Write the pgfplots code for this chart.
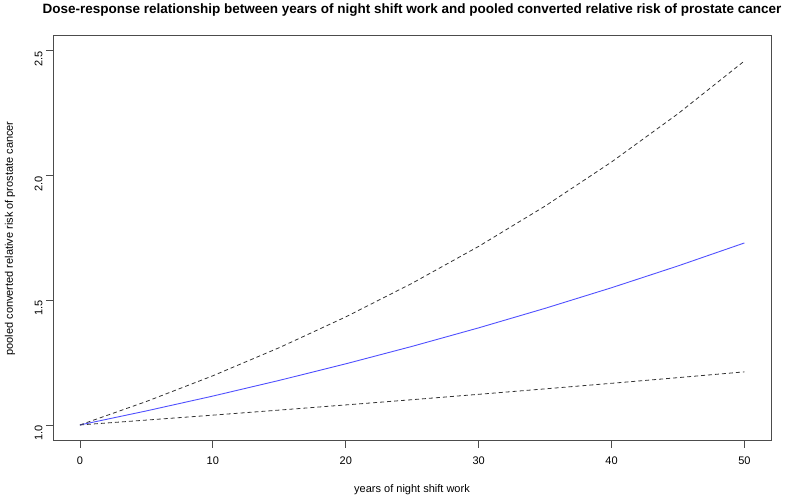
\documentclass[border=0pt]{standalone}
\usepackage{fontspec}
\setmainfont{Liberation Sans}
\usepackage{pgfplots}
\pgfplotsset{compat=1.18}
\definecolor{rblue}{RGB}{80,80,255}

\begin{document}
\begin{tikzpicture}
\begin{axis}[
  scale only axis,
  width=718pt, height=405pt,
  xmin=-2.03, xmax=52, ymin=0.936, ymax=2.56,
  xtick={0,10,20,30,40,50},
  ytick={1,1.5,2,2.5},
  yticklabels={1.0,1.5,2.0,2.5},
  tick align=outside,
  xtick pos=bottom, ytick pos=left,
  major tick length=7pt,
  tick style={black!70, line width=0.8pt},
  axis line style={black!70, line width=0.9pt},
  font=\fontsize{11}{13}\selectfont,
  /pgf/number format/assume math mode=true,
  xticklabel style={yshift=-5pt},
  yticklabel style={rotate=90, anchor=south, xshift=-8pt},
  title={Dose-response relationship between years of night shift work and pooled converted relative risk of prostate cancer},
  title style={font=\fontsize{13.5}{15}\selectfont\bfseries, at={(axis description cs:0.5,1.05)}, anchor=center},
  xlabel={years of night shift work},
  xlabel style={at={(axis description cs:0.5,-0.121)}, anchor=center},
  ylabel={pooled converted relative risk of prostate cancer},
  ylabel style={at={(axis description cs:-0.06,0.5)}, anchor=center, rotate=0},
]
% upper bound
\addplot[black!80, line width=0.8pt, dash pattern=on 4pt off 3pt] coordinates {
  (0,1.0000) (5,1.0942) (10,1.1972) (15,1.3100) (20,1.4333) (25,1.5683)
  (30,1.7160) (35,1.8776) (40,2.0544) (45,2.2479) (50,2.4596)
};
% pooled estimate
\addplot[rblue, line width=0.9pt] coordinates {
  (0,1.0000) (5,1.0563) (10,1.1158) (15,1.1787) (20,1.2451) (25,1.3152)
  (30,1.3893) (35,1.4676) (40,1.5502) (45,1.6376) (50,1.7298)
};
% lower bound
\addplot[black!80, line width=0.8pt, dash pattern=on 4pt off 3pt] coordinates {
  (0,1.0000) (5,1.0195) (10,1.0393) (15,1.0596) (20,1.0803) (25,1.1013)
  (30,1.1228) (35,1.1447) (40,1.1670) (45,1.1897) (50,1.2129)
};
\end{axis}
\path[use as bounding box] ([xshift=-53pt,yshift=-55pt]current axis.south west)
  rectangle ([xshift=18pt,yshift=33pt]current axis.north east);
\end{tikzpicture}
\end{document}
